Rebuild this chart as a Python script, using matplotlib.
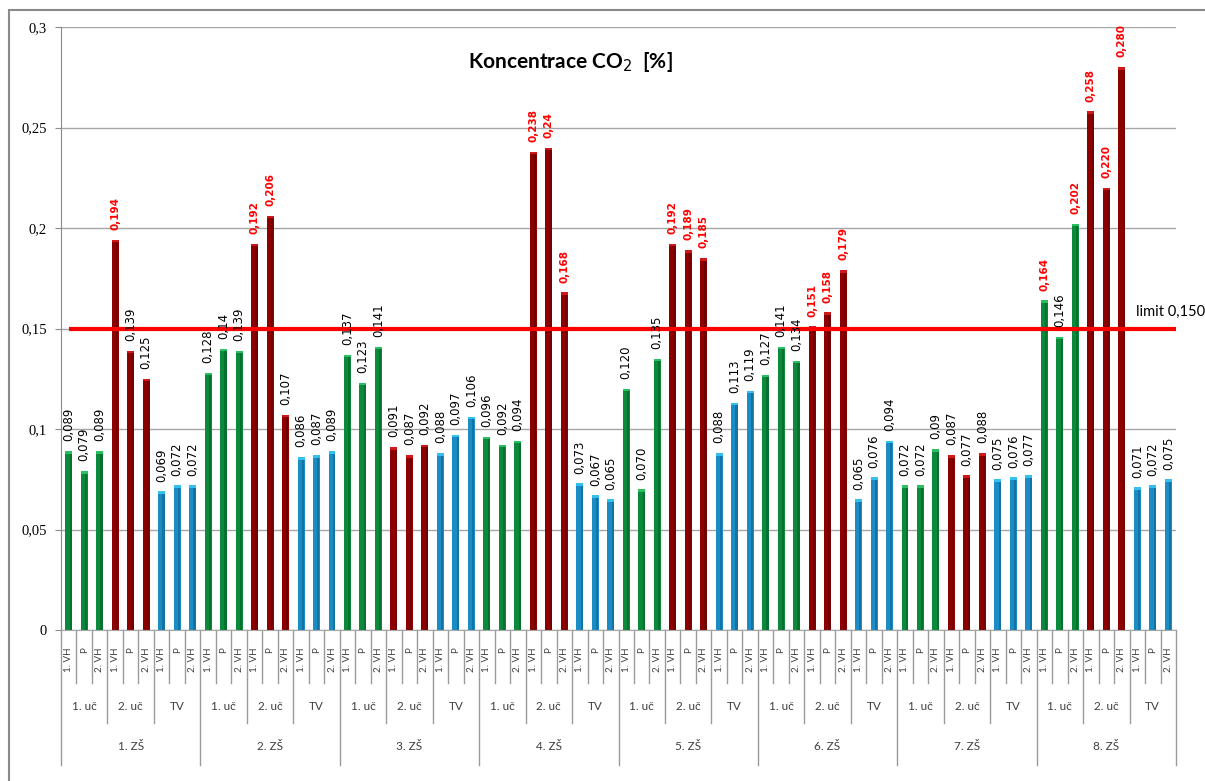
import numpy as np
import matplotlib.pyplot as plt
from matplotlib.patches import Rectangle
from matplotlib.transforms import blended_transform_factory

# Kategorie osy x (tři úrovně)
skoly = ["1. ZŠ", "2. ZŠ", "3. ZŠ", "4. ZŠ", "5. ZŠ", "6. ZŠ", "7. ZŠ", "8. ZŠ"]
ucebny = ["1. uč", "2. uč", "TV"]
mereni = ["1. VH", "P", "2. VH"]

# Naměřené koncentrace CO2 [%] - popisky tak, jak jsou v tabulce
zs1 = ["0,089", "0,079", "0,089", "0,194", "0,139", "0,125", "0,069", "0,072", "0,072"]
zs2 = ["0,128", "0,14", "0,139", "0,192", "0,206", "0,107", "0,086", "0,087", "0,089"]
zs3 = ["0,137", "0,123", "0,141", "0,091", "0,087", "0,092", "0,088", "0,097", "0,106"]
zs4 = ["0,096", "0,092", "0,094", "0,238", "0,24", "0,168", "0,073", "0,067", "0,065"]
zs5 = ["0,120", "0,070", "0,135", "0,192", "0,189", "0,185", "0,088", "0,113", "0,119"]
zs6 = ["0,127", "0,141", "0,134", "0,151", "0,158", "0,179", "0,065", "0,076", "0,094"]
zs7 = ["0,072", "0,072", "0,09", "0,087", "0,077", "0,088", "0,075", "0,076", "0,077"]
zs8 = ["0,164", "0,146", "0,202", "0,258", "0,220", "0,280", "0,071", "0,072", "0,075"]

limit = 0.150

popisky = zs1 + zs2 + zs3 + zs4 + zs5 + zs6 + zs7 + zs8
hodnoty = np.array([float(p.replace(",", ".")) for p in popisky])
n = len(hodnoty)
x = np.arange(n)

barvy_uc = ["#0a8a3a", "#8c0000", "#1a8dc6"]
svetle_uc = ["#2bbf5f", "#d01818", "#35c0f0"]
barvy = [barvy_uc[(i // 3) % 3] for i in range(n)]
svetle = [svetle_uc[(i // 3) % 3] for i in range(n)]

W, H = 1205, 781
fig = plt.figure(figsize=(W / 100, H / 100), dpi=100)
ax = fig.add_axes([61 / W, 151 / H, 1115 / W, 603 / H])
ax_h = 603.0

# rámeček kolem celého grafu
fig.add_artist(Rectangle((9 / W, -0.02), 1.1, 1 - 10 / H + 0.02, transform=fig.transFigure,
                         fill=False, ec="#8a8a8a", lw=1.5))

ax.bar(x, hodnoty, width=0.45, color=barvy, edgecolor="none", zorder=2)
ax.bar(x + 0.12, hodnoty, width=0.14, color="black", alpha=0.18, edgecolor="none", zorder=2)
ax.bar(x, 0.0012, bottom=hodnoty - 0.0012, width=0.45, color=svetle, edgecolor="none", zorder=3)

# popisky hodnot
for xi, v, p in zip(x, hodnoty, popisky):
    if v > limit:
        ax.annotate(p, (xi, v), xytext=(0, 7), textcoords="offset points", rotation=90,
                    ha="center", va="bottom", fontsize=7.5, fontweight="bold", color="red", zorder=5)
    else:
        ax.annotate(p, (xi, v), xytext=(0, 7), textcoords="offset points", rotation=90,
                    ha="center", va="bottom", fontsize=8.5, color="black", zorder=5)

# limitní čára
ax.plot([0, n - 0.5], [limit, limit], color="#ff0000", lw=3, zorder=4, solid_capstyle="butt")
ax.annotate("limit 0,150", xy=(0.964, limit), xycoords=ax.get_yaxis_transform(),
            xytext=(0, 12), textcoords="offset points", ha="left", va="center",
            fontsize=10.5, family="Lato", annotation_clip=False)

ax.set_xlim(-0.5, n - 0.5)
ax.set_ylim(0, 0.3)
yt = np.arange(0, 0.301, 0.05)
ax.set_yticks(yt)
ax.set_yticklabels(["0", "0,05", "0,1", "0,15", "0,2", "0,25", "0,3"],
                   family="Liberation Serif", fontsize=10.5)
ax.tick_params(axis="y", length=4, color="#8a8a8a", pad=6)
ax.yaxis.grid(True, color="#a6a6a6", lw=1)
ax.set_axisbelow(True)
for s in ["top", "right"]:
    ax.spines[s].set_visible(False)
ax.spines["left"].set_color("#8a8a8a")
ax.spines["bottom"].set_color("#a6a6a6")

# víceúrovňová osa x
ax.set_xticks([])
tr = ax.get_xaxis_transform()
seda = "#9a9a9a"
text_seda = "#404040"
for k in range(n + 1):
    if k % 9 == 0:
        hloubka = 135
    elif k % 3 == 0:
        hloubka = 93
    else:
        hloubka = 53
    ax.plot([k - 0.5, k - 0.5], [0, -hloubka / ax_h], transform=tr, color=seda, lw=1, clip_on=False)
for i in range(n):
    ax.text(i, -17 / ax_h, mereni[i % 3], transform=tr, rotation=90, ha="center", va="top",
            fontsize=7, color=text_seda, family="Lato")
for j in range(n // 3):
    ax.text(j * 3 + 1, -76 / ax_h, ucebny[j % 3], transform=tr, ha="center", va="center",
            fontsize=8.5, color=text_seda, family="Lato")
for s, nazev in enumerate(skoly):
    ax.text(s * 9 + 4, -117 / ax_h, nazev, transform=tr, ha="center", va="center",
            fontsize=8.5, color=text_seda, family="Lato")

fig.text(570 / W, 1 - 62 / H, "Koncentrace CO$_2$  [%]", ha="center", va="center",
         fontsize=15, fontweight="bold", family="Lato")

fig.savefig("out.png", dpi=100)
